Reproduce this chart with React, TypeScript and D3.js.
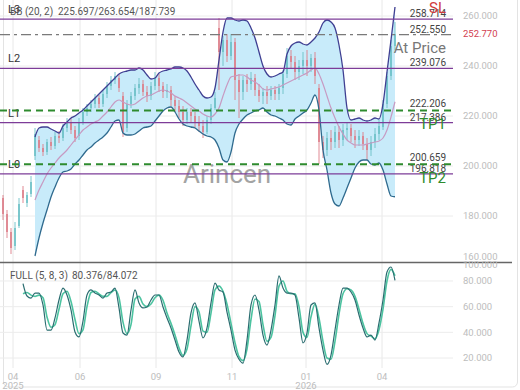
import * as d3 from "d3";

// candles, sampled left to right
const opens = [
  187.2, 180.8, 173.6, 168.0, 176.0, 190.4, 185.2, 188.8, 204.0, 210.4,
  207.2, 205.6, 209.6, 208.0, 212.0, 211.2, 215.2, 217.6, 214.4, 212.0,
  217.6, 221.6, 223.2, 224.8, 227.2, 224.8, 228.8, 232.0, 234.4, 235.2,
  228.0, 215.2, 224.8, 228.0, 231.2, 232.8, 229.6, 228.0, 232.0, 235.2,
  232.0, 229.6, 230.4, 226.4, 224.0, 221.6, 218.4, 221.6, 220.0, 217.6,
  216.0, 213.6, 218.4, 223.2, 255.2, 245.6, 250.4, 244.0, 249.6, 234.4,
  229.6, 234.4, 232.8, 235.2, 230.4, 228.0, 229.6, 228.0, 230.4, 228.8,
  231.2, 236.8, 244.0, 241.6, 237.6, 240.0, 242.4, 240.0, 243.2, 231.2,
  209.6, 206.4, 211.2, 209.6, 213.6, 210.4, 214.4, 215.2, 212.0, 210.4,
  212.0, 208.8, 206.4, 209.6, 212.8, 215.6, 224.8, 236.0, 248.0,
];
const closes = [
  180.8, 173.6, 167.2, 175.2, 184.8, 187.2, 188.4, 193.6, 212.8, 207.2,
  205.6, 209.6, 208.0, 212.0, 211.2, 215.2, 217.6, 214.4, 211.2, 217.6,
  221.6, 223.2, 224.8, 227.2, 224.8, 228.8, 232.0, 234.4, 236.0, 231.2,
  213.6, 224.8, 228.0, 231.2, 232.8, 229.6, 228.0, 232.0, 235.2, 232.0,
  229.6, 230.4, 226.4, 224.0, 221.6, 218.4, 221.6, 220.0, 217.6, 216.0,
  213.6, 218.4, 223.2, 227.2, 245.6, 250.4, 244.0, 249.6, 234.4, 229.6,
  234.4, 232.8, 235.2, 230.4, 228.0, 229.6, 228.0, 230.4, 228.8, 231.2,
  236.8, 244.0, 241.6, 237.6, 240.0, 242.4, 240.0, 243.2, 236.0, 209.6,
  206.4, 211.2, 209.6, 213.6, 210.4, 214.4, 215.2, 212.0, 210.4, 212.0,
  208.8, 206.4, 209.6, 212.8, 216.0, 224.8, 236.0, 248.0, 252.77,
];
const highs = [
  188.4, 182.4, 175.2, 177.6, 187.2, 192.0, 189.6, 196.0, 215.2, 212.0,
  208.8, 210.8, 211.6, 213.6, 214.0, 216.8, 219.2, 219.2, 216.0, 219.2,
  223.2, 224.8, 226.4, 228.8, 228.4, 230.4, 233.6, 236.0, 237.6, 236.8,
  229.6, 226.4, 229.6, 232.8, 235.2, 234.4, 232.0, 233.6, 237.6, 236.8,
  233.6, 232.8, 232.0, 228.0, 226.4, 224.0, 223.2, 223.2, 221.6, 220.0,
  218.4, 220.0, 224.8, 229.6, 259.2, 252.0, 252.8, 252.8, 251.2, 236.8,
  236.0, 236.8, 237.6, 236.8, 232.8, 231.2, 232.0, 232.0, 232.0, 232.8,
  238.4, 247.2, 246.4, 244.0, 242.4, 245.6, 246.4, 244.8, 245.6, 232.8,
  212.0, 213.6, 214.4, 216.0, 216.0, 216.8, 217.6, 216.8, 214.4, 214.4,
  213.6, 211.2, 212.0, 215.2, 218.4, 226.4, 237.6, 250.4, 257.6,
];
const lows = [
  178.4, 171.2, 164.8, 166.4, 175.2, 185.2, 183.6, 187.6, 202.4, 205.6,
  204.0, 204.4, 206.4, 206.8, 209.2, 210.0, 213.6, 212.8, 209.6, 210.4,
  216.4, 220.0, 221.6, 223.2, 223.2, 223.6, 227.2, 230.4, 232.8, 229.6,
  211.6, 213.6, 223.2, 226.4, 228.8, 228.0, 225.6, 226.4, 230.4, 229.6,
  227.2, 227.2, 224.0, 221.6, 219.2, 216.0, 216.8, 217.6, 215.2, 213.6,
  211.2, 212.8, 216.8, 222.4, 230.4, 240.0, 241.6, 242.4, 226.4, 219.2,
  226.4, 229.6, 230.4, 228.0, 225.6, 224.8, 224.8, 226.4, 226.4, 226.4,
  228.8, 235.2, 239.2, 234.4, 234.4, 236.8, 236.0, 237.6, 232.8, 200.8,
  203.2, 204.0, 206.4, 207.2, 207.2, 208.0, 210.4, 209.6, 207.2, 208.0,
  206.4, 202.4, 204.0, 207.2, 210.4, 214.4, 223.2, 234.4, 246.4,
];

// Bollinger bands, starting at candle bbStart
const bbStart = 8;
const bbUpper = [
  211.6, 215.2, 215.6, 215.6, 214.8, 214.0, 213.2, 216.0, 217.6, 219.2,
  220.0, 221.2, 222.4, 224.0, 225.6, 227.2, 228.8, 230.4, 232.0, 233.6,
  235.2, 236.8, 237.6, 238.0, 238.4, 238.4, 239.2, 238.4, 236.4, 234.8,
  235.2, 237.2, 238.0, 238.4, 238.8, 239.6, 239.6, 239.2, 238.0, 235.6,
  232.8, 230.4, 228.0, 227.2, 227.6, 231.2, 242.4, 253.6, 259.2, 259.2,
  258.4, 258.0, 258.4, 258.0, 255.2, 251.2, 245.6, 240.0, 236.8, 235.6,
  236.0, 236.8, 237.6, 244.8, 248.0, 249.2, 249.6, 248.8, 248.4, 249.6,
  251.2, 253.6, 257.2, 258.4, 257.6, 255.2, 248.4, 238.4, 223.2, 218.4,
  218.8, 219.2, 218.4, 218.0, 218.4, 219.2, 218.8, 224.8, 237.6, 250.4,
  263.6,
];
const bbMiddle = [
  186.4, 190.4, 193.6, 196.8, 199.2, 201.2, 203.2, 204.8, 206.4, 208.4,
  210.4, 212.4, 214.4, 215.6, 216.8, 217.6, 218.4, 220.0, 221.6, 223.6,
  225.6, 226.4, 225.6, 224.8, 224.4, 224.8, 226.0, 227.2, 228.0, 228.4,
  229.2, 230.0, 230.4, 230.0, 229.2, 228.0, 227.2, 226.4, 225.2, 224.0,
  222.8, 222.0, 220.8, 220.0, 219.6, 220.8, 223.2, 228.0, 232.4, 235.6,
  236.0, 236.4, 236.4, 235.6, 234.4, 233.6, 232.4, 230.8, 230.4, 230.8,
  231.2, 231.6, 232.4, 233.2, 234.0, 234.8, 235.6, 236.4, 237.2, 238.4,
  239.2, 236.8, 232.8, 228.0, 223.2, 219.2, 215.6, 212.8, 210.4, 209.2,
  208.4, 208.4, 208.4, 208.8, 209.2, 209.6, 210.0, 211.2, 214.4, 219.6,
  225.7,
];
const bbLower = [
  164.0, 171.2, 177.2, 182.4, 187.6, 191.6, 195.2, 197.6, 198.0, 198.8,
  200.8, 202.4, 204.4, 206.4, 207.6, 209.2, 210.4, 211.6, 213.2, 215.6,
  218.0, 218.4, 213.2, 212.4, 212.4, 212.8, 214.0, 215.2, 215.6, 216.0,
  218.0, 220.0, 222.0, 223.2, 223.6, 221.6, 218.8, 216.8, 216.0, 215.6,
  215.2, 214.0, 212.8, 212.0, 211.6, 210.4, 207.2, 202.4, 201.6, 205.6,
  213.2, 216.8, 218.8, 220.4, 221.2, 222.0, 222.4, 223.2, 221.6, 220.4,
  220.0, 219.2, 218.4, 216.8, 216.4, 218.8, 220.0, 221.2, 222.4, 225.2,
  228.4, 222.4, 206.4, 198.4, 189.2, 184.8, 184.0, 187.2, 191.2, 195.2,
  199.2, 201.6, 202.4, 202.4, 200.8, 200.4, 201.2, 198.4, 192.8, 188.0,
  187.7,
];

// full stochastic (5, 8, 3), starting at candle stochStart
const stochStart = 5;
const stochK = [
  78.0, 68.3, 66.7, 70.6, 70.6, 61.3, 41.8, 41.8, 51.2, 65.2,
  74.5, 69.1, 57.4, 40.3, 36.4, 48.8, 69.1, 73.0, 70.6, 69.1,
  66.7, 70.6, 71.4, 74.5, 59.0, 39.5, 37.9, 57.4, 73.0, 62.9,
  59.0, 59.7, 65.2, 69.1, 69.1, 59.7, 51.2, 43.4, 34.0, 24.7,
  20.8, 34.0, 55.1, 62.9, 48.8, 35.6, 43.4, 62.9, 78.4, 73.0,
  71.4, 55.8, 41.8, 26.2, 19.0, 16.0, 34.0, 61.3, 69.1, 57.4,
  37.9, 30.1, 41.8, 61.3, 84.0, 74.5, 70.6, 70.6, 69.1, 51.2,
  31.7, 39.5, 61.3, 62.9, 43.4, 26.2, 15.0, 22.3, 41.8, 61.3,
  74.5, 74.5, 71.4, 65.2, 53.5, 43.4, 36.4, 37.9, 34.0, 47.3,
  65.2, 87.0, 90.9, 80.4,
];
const stochD = [
  70, 71, 69, 68, 69, 67, 52, 44, 46, 58,
  70, 72, 64, 50, 39, 42, 60, 71, 72, 70,
  68, 68, 71, 73, 67, 48, 39, 46, 66, 68,
  62, 60, 62, 67, 69, 65, 55, 47, 38, 28,
  22, 27, 45, 60, 56, 41, 40, 55, 73, 76,
  72, 62, 47, 32, 21, 18, 27, 50, 66, 64,
  46, 33, 36, 53, 76, 80, 72, 70, 70, 60,
  40, 36, 52, 62, 51, 33, 20, 19, 33, 54,
  70, 74, 73, 68, 58, 47, 39, 37, 35, 42,
  58, 80, 89, 84.1,
];

// axes
const tickIndex = [2.5, 19.25, 38.25, 57.25, 75.75, 94.75];
const tickMonth = ["04", "06", "09", "11", "01", "04"];
const tickYear = ["2025", "", "", "", "2026", ""];
const priceTicks = [260, 240, 220, 200, 180, 160];
const stochTicks = [100, 80, 60, 40, 20];

// levels and labels
const levelValues = [258.714, 239.076, 217.386, 196.818];
const levelNames = ["L3", "L2", "L1", "L0"];
const targetValues = [222.206, 200.659];
const targetNames = ["TP1", "TP2"];
const entryValue = 252.55;
const entryName = "At Price";
const stopName = "SL";
const lastPrice = 252.77;
const bbTitle = "BB (20, 2)";
const bbValues = "225.697/263.654/187.739";
const stochTitle = "FULL (5, 8, 3)";
const stochValues = "80.376/84.072";
const watermark = "Arincen";

const FONT = "Roboto, sans-serif";

export default function App() {
  const W = 520;
  const H = 390;
  const plotRight = 453;
  const mainBottom = 262;

  const x = d3.scaleLinear().domain([0, closes.length - 1]).range([3, 395]);
  const y = d3.scaleLinear().domain([160, 260]).range([266, 16]);
  const ys = d3.scaleLinear().domain([0, 100]).range([383.7, 255.3]);

  const bbIdx = d3.range(bbUpper.length);
  const band = d3
    .area<number>()
    .x((k) => x(k + bbStart))
    .y0((k) => y(bbLower[k]))
    .y1((k) => y(bbUpper[k]))
    .curve(d3.curveMonotoneX);
  const bandLine = (arr: number[]) =>
    d3
      .line<number>()
      .x((k) => x(k + bbStart))
      .y((k) => y(arr[k]))
      .curve(d3.curveMonotoneX)(bbIdx) || "";

  const stIdx = d3.range(stochK.length);
  const stLine = (arr: number[]) =>
    d3
      .line<number>()
      .x((k) => x(k + stochStart))
      .y((k) => ys(arr[k]))
      .curve(d3.curveMonotoneX)(stIdx) || "";

  const fmt = d3.format(".3f");

  return (
    <svg
      width={W}
      height={H}
      style={{ position: "absolute", left: 0, top: 0, background: "#fff" }}
      fontFamily={FONT}
    >
      <defs>
        <clipPath id="mainClip">
          <rect x={0} y={0} width={plotRight} height={mainBottom} />
        </clipPath>
        <clipPath id="stochClip">
          <rect x={0} y={mainBottom + 1} width={plotRight} height={H - mainBottom - 6} />
        </clipPath>
      </defs>

      <rect x={3.5} y={-6} width={514} height={393} rx={5} fill="none" stroke="#e3e3e3" />

      {/* grid */}
      {tickIndex.map((t, i) => (
        <line key={"vg" + i} x1={x(t)} x2={x(t)} y1={0} y2={368} stroke="#e8e8e8" />
      ))}
      {priceTicks
        .filter((v) => y(v) < mainBottom)
        .map((v) => (
          <line key={"pg" + v} x1={0} x2={plotRight} y1={y(v)} y2={y(v)} stroke="#ececec" />
        ))}
      {stochTicks
        .filter((v) => ys(v) > mainBottom + 2)
        .map((v) => (
          <line key={"sg" + v} x1={0} x2={plotRight} y1={ys(v)} y2={ys(v)} stroke="#ececec" />
        ))}

      {/* main panel */}
      <g clipPath="url(#mainClip)">
        <path d={band(bbIdx) || ""} fill="#c8ebfa" />
        {closes.map((c, i) => {
          const o = opens[i];
          const up = c >= o;
          const col = up ? "#6cc0c6" : "#dc7d88";
          const top = y(Math.max(o, c));
          const bot = y(Math.min(o, c));
          return (
            <g key={"c" + i}>
              <line x1={x(i)} x2={x(i)} y1={y(highs[i])} y2={y(lows[i])} stroke={col} strokeWidth={0.9} />
              <rect x={x(i) - 0.8} y={top} width={1.6} height={Math.max(1, bot - top)} fill={col} />
            </g>
          );
        })}
        <path d={bandLine(bbMiddle)} fill="none" stroke="#c79ac2" strokeWidth={1.2} />
        <path d={bandLine(bbUpper)} fill="none" stroke="#3f3f92" strokeWidth={1.3} />
        <path d={bandLine(bbLower)} fill="none" stroke="#2f6a8e" strokeWidth={1.3} />
      </g>

      <text x={183} y={183} fontSize={26} fill="#8d8d8d" opacity={0.8}>
        {watermark}
      </text>

      {/* level lines */}
      {levelValues.map((v, i) => (
        <g key={"lv" + i}>
          <line x1={0} x2={plotRight} y1={y(v)} y2={y(v)} stroke="#7d3c98" strokeWidth={1.2} />
          <text x={8} y={y(v) - 6} fontSize={11} fill="#333">
            {levelNames[i]}
          </text>
          <text x={446} y={y(v) - 2} fontSize={10} fill="#444" textAnchor="end">
            {fmt(v)}
          </text>
        </g>
      ))}
      {targetValues.map((v, i) => (
        <g key={"tp" + i}>
          <line
            x1={0}
            x2={plotRight}
            y1={y(v)}
            y2={y(v)}
            stroke="#2e8b2e"
            strokeWidth={2}
            strokeDasharray="7,5"
          />
          <text x={446} y={y(v) - 3} fontSize={10} fill="#444" textAnchor="end">
            {fmt(v)}
          </text>
          <text x={446} y={y(v) + 19} fontSize={15} fill="#2e8b2e" textAnchor="end">
            {targetNames[i]}
          </text>
        </g>
      ))}
      <line
        x1={0}
        x2={plotRight}
        y1={y(entryValue)}
        y2={y(entryValue)}
        stroke="#7a7a7a"
        strokeWidth={1.3}
        strokeDasharray="10,4,3,4"
      />
      <text x={446} y={y(entryValue) - 2} fontSize={10} fill="#444" textAnchor="end">
        {fmt(entryValue)}
      </text>
      <text x={446} y={y(entryValue) + 18} fontSize={15} fill="#777" textAnchor="end">
        {entryName}
      </text>
      <text x={446} y={y(levelValues[0]) - 6} fontSize={15} fill="#d13b3b" textAnchor="end">
        {stopName}
      </text>

      {/* headers */}
      <text x={10} y={15} fontSize={10} fill="#555">
        {bbTitle}
      </text>
      <text x={58} y={15} fontSize={10} fill="#555">
        {bbValues}
      </text>

      {/* stochastic panel */}
      <g clipPath="url(#stochClip)">
        <path d={stLine(stochD)} fill="none" stroke="#4cc3a0" strokeWidth={1.6} />
        <path d={stLine(stochK)} fill="none" stroke="#2a6d70" strokeWidth={1.2} />
      </g>
      <text x={10} y={279} fontSize={10} fill="#555">
        {stochTitle}
      </text>
      <text x={72} y={279} fontSize={10} fill="#555">
        {stochValues}
      </text>

      <line x1={0} x2={512} y1={mainBottom + 0.5} y2={mainBottom + 0.5} stroke="#666" strokeWidth={1.5} />

      {/* right axes */}
      {priceTicks.map((v) => (
        <text
          key={"pl" + v}
          x={463}
          y={Math.min(y(v), 257)}
          dy="0.35em"
          fontSize={9.5}
          fill="#bdbdbd"
        >
          {fmt(v)}
        </text>
      ))}
      <text x={463} y={y(lastPrice)} dy="0.35em" fontSize={9.5} fill="#d2404f">
        {fmt(lastPrice)}
      </text>
      {stochTicks.map((v) => (
        <text
          key={"sl" + v}
          x={463}
          y={Math.max(ys(v), 265)}
          dy="0.35em"
          fontSize={9.5}
          fill="#bdbdbd"
        >
          {fmt(v)}
        </text>
      ))}

      {/* bottom axis */}
      {tickIndex.map((t, i) => (
        <g key={"xt" + i}>
          <text x={x(t)} y={380} fontSize={9.5} fill="#bdbdbd" textAnchor="middle">
            {tickMonth[i]}
          </text>
          {tickYear[i] && (
            <text x={x(t)} y={389} fontSize={9.5} fill="#bdbdbd" textAnchor="middle">
              {tickYear[i]}
            </text>
          )}
        </g>
      ))}
    </svg>
  );
}
